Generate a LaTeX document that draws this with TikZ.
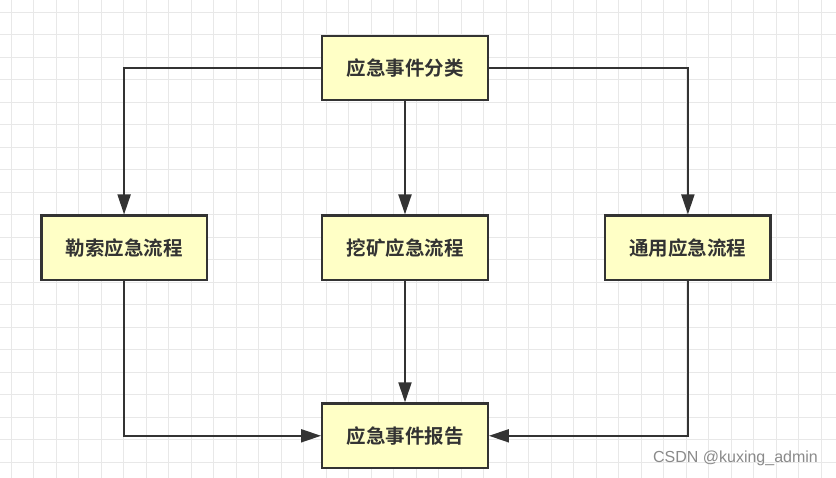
\documentclass[tikz,border=0pt]{standalone}
\usepackage{fontspec}
\setmainfont{Liberation Sans}
\newfontfamily\cjk{Noto Sans CJK SC}[BoldFont={Noto Sans CJK SC Bold}]
\usetikzlibrary{arrows.meta,positioning}
\definecolor{flowfill}{HTML}{FFFFC6}
\definecolor{flowdark}{HTML}{333333}
\definecolor{gridgray}{HTML}{E8E8E8}
\definecolor{markgray}{HTML}{8A8A8A}

\begin{document}
\begin{tikzpicture}[x=1pt,y=1pt,>={Triangle[length=20pt,width=13pt]}]
        \tikzset{flow/.style={draw=flowdark,fill=flowfill,line width=2.4pt,minimum width=165.5pt,minimum height=64.5pt,align=center,font=\cjk\bfseries\fontsize{19.5}{23}\selectfont,text=flowdark},
          flowline/.style={->,draw=flowdark,line width=2pt}}
        \useasboundingbox (0,0) rectangle (836,477);
        \clip (0,0) rectangle (836,477);
        \fill[white] (0,0) rectangle (836,477);
        \draw[gridgray,line width=0.8pt,step=22.5,shift={(11,15)}] (-22.5,-22.5) grid (840,480);
        \node[flow] (classify) at (405,409) {应急事件分类};
        \node[flow,below=113pt of classify] (mining) {挖矿应急流程};
        \node[flow,left=113pt of mining] (ransom) {勒索应急流程};
        \node[flow,right=115pt of mining] (general) {通用应急流程};
        \node[flow,below=121pt of mining] (report) {应急事件报告};
        \draw[flowline] (classify.west) -| (ransom.north);
        \draw[flowline] (classify.south) -- (mining.north);
        \draw[flowline] (classify.east) -| (general.north);
        \draw[flowline] (ransom.south) |- (report.west);
        \draw[flowline] (mining.south) -- (report.north);
        \draw[flowline] (general.south) |- (report.east);
        \node[text=markgray,font=\fontsize{16}{19}\selectfont] (mark) at (735.5,19) {CSDN @kuxing\_admin};
      \end{tikzpicture}
\end{document}
